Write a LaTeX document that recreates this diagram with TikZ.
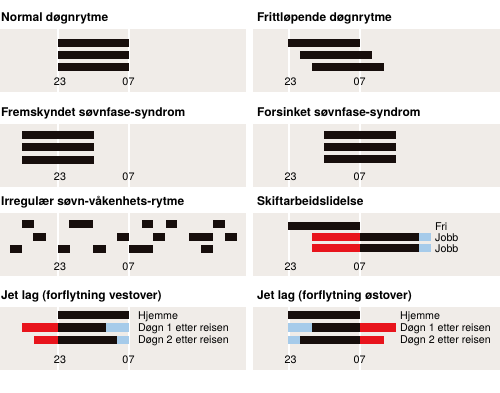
\documentclass[tikz,border=0pt]{standalone}
\usepackage{fontspec}
\setmainfont{TeX Gyre Heros}
\definecolor{panelbg}{HTML}{F0ECE8}
\definecolor{barblk}{HTML}{170E0C}
\definecolor{barred}{HTML}{E8141C}
\definecolor{barblue}{HTML}{A6CBEA}
\tikzset{
  titletxt/.style={anchor=base west, inner sep=0pt, font=\fontsize{12}{14}\selectfont\bfseries},
  lbl/.style={anchor=base, inner sep=0pt, font=\fontsize{10.8}{12}\selectfont},
  sidelbl/.style={anchor=base west, inner sep=0pt, font=\fontsize{10.7}{12}\selectfont},
  panel/.style={fill=panelbg},
  hline/.style={draw=white, line width=1.3pt},
  blk/.style={fill=barblk},
  red/.style={fill=barred},
  blue/.style={fill=barblue}
}
\newcommand{\mypanel}[4]{% x1, x2, ytop, line offset
  \fill[panel] (#1,#3) rectangle (#2,#3+63);
  \draw[hline] (58+#4,#3) -- (58+#4,#3+63);
  \draw[hline] (129+#4,#3) -- (129+#4,#3+63);
}
\begin{document}
\begin{tikzpicture}[x=1pt,y=-1pt]
\useasboundingbox (0,0) rectangle (500,392);
\fill[white] (0,0) rectangle (500,392);
% panels
\mypanel{0}{246}{29}{0}
\mypanel{253}{500}{29}{231}
\mypanel{0}{246}{124}{0}
\mypanel{253}{500}{124}{231}
\mypanel{0}{246}{213}{0}
\mypanel{253}{500}{213}{231}
\mypanel{0}{246}{307}{0}
\mypanel{253}{500}{307}{231}
% titles
\node[titletxt] (t1) at (1,21.5) {Normal døgnrytme};
\node[titletxt] (t2) at (257,21.5) {Frittløpende døgnrytme};
\node[titletxt] (t3) at (1,116.5) {Fremskyndet søvnfase-syndrom};
\node[titletxt] (t4) at (257,116.5) {Forsinket søvnfase-syndrom};
\node[titletxt] (t5) at (1,205.5) {Irregulær søvn-våkenhets-rytme};
\node[titletxt] (t6) at (257,205.5) {Skiftarbeidslidelse};
\node[titletxt] (t7) at (1,299) {Jet lag (forflytning vestover)};
\node[titletxt] (t8) at (257,299) {Jet lag (forflytning østover)};
% axis labels
\node[lbl] (a1) at (60,85) {23};   \node[lbl] (b1) at (128.5,85) {07};
\node[lbl] (a2) at (290.5,85) {23};  \node[lbl] (b2) at (359.5,85) {07};
\node[lbl] (a3) at (60,180) {23};  \node[lbl] (b3) at (128.5,180) {07};
\node[lbl] (a4) at (290.5,180) {23}; \node[lbl] (b4) at (359.5,180) {07};
\node[lbl] (a5) at (60,270) {23};  \node[lbl] (b5) at (128.5,270) {07};
\node[lbl] (a6) at (290.5,270) {23}; \node[lbl] (b6) at (359.5,270) {07};
\node[lbl] (a7) at (60,363) {23};  \node[lbl] (b7) at (128.5,363) {07};
\node[lbl] (a8) at (290.5,363) {23}; \node[lbl] (b8) at (359.5,363) {07};
% Normal
\fill[blk] (58,39) rectangle (129,47);
\fill[blk] (58,51) rectangle (129,59);
\fill[blk] (58,63) rectangle (129,71);
% Frittlopende
\fill[blk] (288,39) rectangle (360,47);
\fill[blk] (300,51) rectangle (372,59);
\fill[blk] (312,63) rectangle (384,71);
% Fremskyndet
\fill[blk] (22,131) rectangle (94,139);
\fill[blk] (22,143) rectangle (94,151);
\fill[blk] (22,156) rectangle (94,164);
% Forsinket
\fill[blk] (324,131) rectangle (396,139);
\fill[blk] (324,143) rectangle (396,151);
\fill[blk] (324,155) rectangle (396,163);
% Irregular
\foreach \a/\b in {22/34,69/93,142/153,166/177,213/225}
  \fill[blk] (\a,220) rectangle (\b,228);
\foreach \a/\b in {33/46,117/129,153/165,189/213,225/237}
  \fill[blk] (\a,232.5) rectangle (\b,241);
\foreach \a/\b in {10/22,58/70,93/106,129/153,201/213}
  \fill[blk] (\a,245) rectangle (\b,253);
% Skiftarbeid
\fill[blk] (288,222) rectangle (360,230);
\fill[red] (312,233) rectangle (360,241);
\fill[blk] (360,233) rectangle (419,241);
\fill[blue] (419,233) rectangle (431,241);
\fill[red] (312,244) rectangle (360,252);
\fill[blk] (360,244) rectangle (419,252);
\fill[blue] (419,244) rectangle (431,252);
\node[sidelbl] (s1) at (435,230) {Fri};
\node[sidelbl] (s2) at (435,241.5) {Jobb};
\node[sidelbl] (s3) at (435,252.5) {Jobb};
% Jet lag vest
\fill[blk] (58,311) rectangle (129,319);
\fill[red] (22,323) rectangle (58,332);
\fill[blk] (58,323) rectangle (106,332);
\fill[blue] (106,323) rectangle (129,332);
\fill[red] (34,336) rectangle (58,344);
\fill[blk] (58,336) rectangle (117,344);
\fill[blue] (117,336) rectangle (129,344);
\node[sidelbl] (v1) at (138,319) {Hjemme};
\node[sidelbl] (v2) at (138,331.5) {Døgn 1 etter reisen};
\node[sidelbl] (v3) at (138,343.5) {Døgn 2 etter reisen};
% Jet lag ost
\fill[blk] (288,311) rectangle (360,319);
\fill[blue] (288,323) rectangle (312,332);
\fill[blk] (312,323) rectangle (360,332);
\fill[red] (360,323) rectangle (396,332);
\fill[blue] (288,336) rectangle (300,344);
\fill[blk] (300,336) rectangle (360,344);
\fill[red] (360,336) rectangle (384,344);
\node[sidelbl] (o1) at (400,319) {Hjemme};
\node[sidelbl] (o2) at (400,331.5) {Døgn 1 etter reisen};
\node[sidelbl] (o3) at (400,343.5) {Døgn 2 etter reisen};
\end{tikzpicture}
\end{document}
